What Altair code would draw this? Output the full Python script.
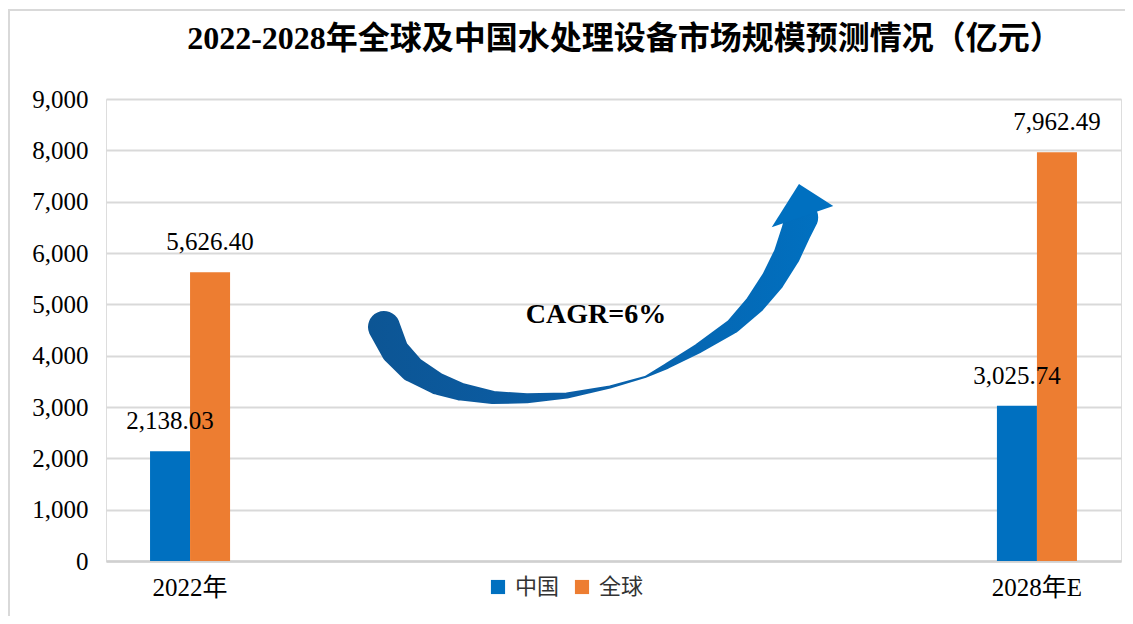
import altair as alt
import pandas as pd

# ---------------- data ----------------
categories = ["2022年", "2028年E"]
series = ["中国", "全球"]
china_values = [2138.03, 3025.74]
global_values = [5626.40, 7962.49]
series_colors = ["#0070C0", "#ED7D31"]
y_ticks = [0, 1000, 2000, 3000, 4000, 5000, 6000, 7000, 8000, 9000]
title_text = "2022-2028年全球及中国水处理设备市场规模预测情况（亿元）"
cagr_text = "CAGR=6%"

# curved CAGR arrow: centre line (fraction of plot width, value on y axis), ribbon width
arrow_x = [0.2739, 0.2847, 0.3015, 0.3261, 0.3488, 0.3813, 0.4148, 0.4542, 0.4966,
           0.5310, 0.5527, 0.5842, 0.6177, 0.6394, 0.6571, 0.6709, 0.6798, 0.6854]
arrow_y = [4558, 4091, 3740, 3458, 3302, 3185, 3169, 3224, 3390,
           3584, 3799, 4149, 4578, 5006, 5474, 5961, 6409, 6692]
arrow_w = [32, 28, 26, 22, 18, 13, 10, 6, 3,
           2, 6, 10, 15, 20, 24, 27, 30, 33]
head_x = [0.6854]
head_y = [6692]
cagr_x = [0.4828]
cagr_y = [4792]

rows = []
for i, c in enumerate(categories):
    rows.append({"cat": c, "series": series[0], "value": china_values[i]})
    rows.append({"cat": c, "series": series[1], "value": global_values[i]})
df = pd.DataFrame(rows)

arrow_df = pd.DataFrame({"xf": arrow_x, "value": arrow_y, "w": arrow_w,
                         "i": list(range(len(arrow_x)))})
head_df = pd.DataFrame({"xf": head_x, "value": head_y})
cagr_df = pd.DataFrame({"xf": cagr_x, "value": cagr_y, "t": [cagr_text]})

SERIF = "Liberation Serif, Times New Roman, Noto Sans CJK SC"
W, H = 1015, 462

x_enc = alt.X(
    "cat:N", sort=categories,
    scale=alt.Scale(domain=categories, paddingInner=0.9055, paddingOuter=0.052),
    axis=alt.Axis(title=None, labelAngle=0, ticks=False, grid=False,
                  domainColor="#D0D0D0", domainWidth=2.5,
                  labelFont=SERIF, labelFontSize=25, labelColor="#000000",
                  labelPadding=14),
)
xoff_enc = alt.XOffset("series:N", sort=series,
                       scale=alt.Scale(domain=series, paddingInner=0, paddingOuter=0))
y_axis = alt.Axis(title=None, values=y_ticks, format=",", labelExpr="format(datum.value, ',')",
                  domain=False, ticks=False,
                  labelFont=SERIF, labelFontSize=25, labelColor="#000000",
                  labelPadding=18, gridColor="#D9D9D9", gridWidth=2)
y_scale = alt.Scale(domain=[0, 9000], nice=False)


def yv():
    return alt.Y("value:Q", scale=y_scale, axis=y_axis)


bars = alt.Chart(df).mark_bar().encode(
    x=x_enc,
    xOffset=xoff_enc,
    y=yv(),
    color=alt.Color(
        "series:N", sort=series,
        scale=alt.Scale(domain=series, range=series_colors),
        legend=alt.Legend(title=None, orient="none", legendX=381, legendY=477,
                          direction="horizontal", symbolType="square",
                          symbolSize=200, symbolStrokeWidth=0,
                          labelFont="Noto Sans CJK SC", labelFontSize=22,
                          labelColor="#333333", columnPadding=11,
                          labelOffset=6, padding=0),
    ),
)

labels = alt.Chart(df).mark_text(
    font=SERIF, fontSize=25, dy=-22, baseline="alphabetic", color="#000000"
).encode(
    x=alt.X("cat:N", sort=categories),
    xOffset=alt.XOffset("series:N", sort=series),
    y=yv(),
    text=alt.Text("value:Q", format=",.2f"),
)

bar_layer = alt.layer(bars, labels)

grad = alt.LinearGradient(
    gradient="linear",
    stops=[alt.GradientStop(offset=0, color="#0C5594"),
           alt.GradientStop(offset=0.45, color="#0B5EA6"),
           alt.GradientStop(offset=1, color="#0070C0")],
    x1=0, x2=1, y1=0, y2=0,
)

ax = alt.X("xf:Q", scale=alt.Scale(domain=[0, 1]), axis=None)

trail = alt.Chart(arrow_df).mark_trail(fill=grad, color=grad).encode(
    x=ax,
    y=yv(),
    size=alt.Size("w:Q", scale=None, legend=None),
    order=alt.Order("i:Q"),
)

head = alt.Chart(head_df).mark_point(
    shape="M-0.086,-1.063 L1.003,-0.365 L-0.952,0.311 Z",
    size=3969, filled=True, fill="#0070C0", strokeWidth=0, opacity=1,
).encode(
    x=ax,
    y=yv(),
)

cagr = alt.Chart(cagr_df).mark_text(
    font=SERIF, fontSize=28, fontWeight="bold", color="#000000"
).encode(
    x=ax,
    y=yv(),
    text="t:N",
)

arrow_layer = alt.layer(trail, head, cagr)

frame = alt.Chart(alt.Data(values=[{}])).mark_rect(
    fill="transparent", stroke="#D9D9D9", strokeWidth=2
).encode(
    x=alt.value(-97), x2=alt.value(1040), y=alt.value(-89), y2=alt.value(540)
)

chart = alt.layer(frame, bar_layer, arrow_layer).resolve_scale(
    x="independent"
).properties(
    width=W, height=H,
    title=alt.TitleParams(text=title_text, font=SERIF, fontSize=32, fontWeight="bold",
                          anchor="middle", frame="group", offset=-47, dx=11,
                          color="#000000"),
    padding={"left": 98, "top": 91, "right": 4, "bottom": 55},
    autosize=alt.AutoSizeParams(type="none"),
).configure_view(stroke=None).configure(background="white")

chart.save("out.html", embed_options={"renderer": "svg", "actions": False})
